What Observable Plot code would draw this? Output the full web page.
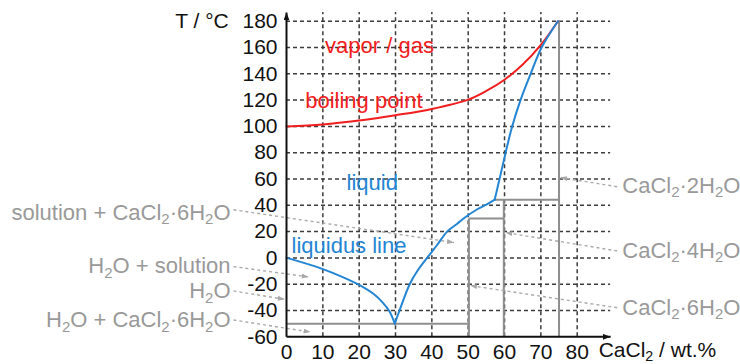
<!DOCTYPE html>
<html>
<head>
<meta charset="utf-8">
<script src="https://cdn.jsdelivr.net/npm/d3@7"></script>
<script src="https://cdn.jsdelivr.net/npm/@observablehq/plot@0.6"></script>
<style>
  html, body { margin: 0; padding: 0; background: #ffffff; }
  #chart svg { display: block; }
</style>
</head>
<body>
<div id="chart"></div>
<script>
// ---- tick values ----
const xTicks = [0, 10, 20, 30, 40, 50, 60, 70, 80];
const yTicks = [-60, -40, -20, 0, 20, 40, 60, 80, 100, 120, 140, 160, 180];
const gridXValues = [10, 20, 30, 40, 50, 60, 70, 80];
const gridYValues = [-40, -20, 0, 20, 40, 60, 80, 100, 120, 140, 160, 180];

// ---- boiling point curve (wt.% CaCl2, °C) ----
const boilX = [0, 10, 20, 30, 40, 50, 55, 60, 65, 70, 74.7];
const boilT = [100, 101.5, 104.5, 108.5, 113.3, 120.4, 127, 135.5, 147, 162, 180];

// ---- liquidus line, three branches ----
const iceX = [0, 5, 10, 15, 20, 24, 26.5, 28.4, 29.8];
const iceT = [0, -4, -8.5, -14, -20.5, -27.5, -34, -41, -50];
const hexX = [29.8, 31.1, 33.9, 36, 38.7, 41.5, 44.2, 47, 49, 52.5, 55, 57.3];
const hexT = [-50, -40, -20, -10, 0, 10, 20, 26, 30.5, 37, 40.5, 44.3];
const dihX = [57.3, 58.8, 60.3, 62.1, 64.4, 67.2, 70.2, 74.7];
const dihT = [44.3, 62, 80, 100, 120, 140, 160, 180];

// ---- phase boundary lines (gray): x1, T1, x2, T2 ----
const phaseX1 = [0, 50.2, 50.2, 59.8, 57.3, 75];
const phaseT1 = [-50, -60, 30, -60, 44.3, -60];
const phaseX2 = [50.2, 50.2, 59.8, 59.8, 75, 75];
const phaseT2 = [-50, 30, 30, 44.3, 44.3, 180];

// ---- region labels ----
const regionText = ["vapor / gas", "boiling point", "liquid", "liquidus line"];
const regionX = [25.6, 21.3, 23.6, 17.2];
const regionT = [161.5, 119.6, 57, 9];
const regionKind = ["red", "red", "blue", "blue"];

// ---- left annotations ----
const leftText = ["solution + CaCl₂·6H₂O", "H₂O + solution", "H₂O", "H₂O + CaCl₂·6H₂O"];
const leftT = [34.3, -6.3, -25.4, -47.5];
const leftStartT = [36.6, -6.6, -25.1, -47.2];
const leftTipX = [46.1, 6.1, -0.5, 6.6];
const leftTipT = [11.7, -14.5, -31.5, -56.4];

// ---- right annotations ----
const rightText = ["CaCl₂·2H₂O", "CaCl₂·4H₂O", "CaCl₂·6H₂O"];
const rightT = [54.9, 5.3, -37.9];
const rightStartT = [54.1, 5.3, -37.9];
const rightTipX = [75.3, 60.2, 50.5];
const rightTipT = [61.2, 19.3, -21];

// ---- axis extents (data units) ----
const axisXEnd = 89.2;
const axisYEnd = 186.7;
const xMin = 0, xMax = 80, yMin = -60, yMax = 180;
const leftLabelX = -15.4, leftLinkX = -14.6;
const rightLabelX = 92.4, rightLinkX = 91;

// ---- build tables ----
const boil = boilX.map((x, i) => ({x, T: boilT[i]}));
const liquidus = [
  ...iceX.map((x, i) => ({x, T: iceT[i], seg: "ice"})),
  ...hexX.map((x, i) => ({x, T: hexT[i], seg: "hex"})),
  ...dihX.map((x, i) => ({x, T: dihT[i], seg: "dih"}))
];
const phase = phaseX1.map((x1, i) => ({x1, T1: phaseT1[i], x2: phaseX2[i], T2: phaseT2[i]}));
const regions = regionText.map((text, i) => ({text, x: regionX[i], T: regionT[i], kind: regionKind[i]}));
const leftAnn = leftText.map((text, i) => ({text, T: leftT[i], sT: leftStartT[i], tx: leftTipX[i], tT: leftTipT[i]}));
const rightAnn = rightText.map((text, i) => ({text, T: rightT[i], sT: rightStartT[i], tx: rightTipX[i], tT: rightTipT[i]}));
const axes = [
  {x1: xMin, T1: yMin, x2: axisXEnd, T2: yMin},
  {x1: xMin, T1: yMin, x2: xMin, T2: axisYEnd}
];

const RED = "#f21d1d";
const BLUE = "#2385d3";
const GRAY_TEXT = "#999999";
const GRAY_LINE = "#8e8e8e";
const GRAY_DASH = "#a9a9a9";
const GRID = "#3c3c3c";
const FONT = "'Liberation Sans', Arial, Helvetica, sans-serif";

// custom filled arrowhead marker
function makeHead(len, wid) {
  return function (color) {
    const ns = "http://www.w3.org/2000/svg";
    const m = document.createElementNS(ns, "marker");
    m.setAttribute("viewBox", `${-len} ${-wid / 2} ${len} ${wid}`);
    m.setAttribute("refX", 0);
    m.setAttribute("refY", 0);
    m.setAttribute("markerWidth", len);
    m.setAttribute("markerHeight", wid);
    m.setAttribute("markerUnits", "userSpaceOnUse");
    m.setAttribute("orient", "auto");
    const p = document.createElementNS(ns, "path");
    p.setAttribute("d", `M${-len},${-wid / 2}L0,0L${-len},${wid / 2}Z`);
    p.setAttribute("fill", color);
    p.setAttribute("stroke", "none");
    m.appendChild(p);
    return m;
  };
}
let annHead = makeHead(7, 5);
let axisHead = makeHead(8, 6);
try { Plot.link([], {x1: 0, y1: 0, x2: 1, y2: 1, markerEnd: annHead}); }
catch (e) { annHead = "arrow"; axisHead = "arrow"; }

const chart = Plot.plot({
  width: 740,
  height: 364,
  marginLeft: 286,
  marginRight: 163.3,
  marginTop: 20.7,
  marginBottom: 27.7,
  style: {fontFamily: FONT, fontSize: "21px", background: "#ffffff", color: "#111111", overflow: "visible"},
  x: {domain: [xMin, xMax], ticks: xTicks, tickSize: 0, tickPadding: 7, tickFormat: d => String(d), label: null},
  y: {domain: [yMin, yMax], ticks: yTicks, tickSize: 0, tickPadding: 9, tickFormat: d => String(d), label: null},
  marks: [
    // dashed grid
    Plot.ruleY(gridYValues, {y: d => d, x1: xMin, x2: axisXEnd, stroke: GRID, strokeWidth: 1.5, strokeDasharray: "4,3"}),
    Plot.ruleX(gridXValues, {x: d => d, y1: yMin, y2: axisYEnd, stroke: GRID, strokeWidth: 1.5, strokeDasharray: "4,3"}),
    // phase boundaries
    Plot.link(phase, {x1: "x1", y1: "T1", x2: "x2", y2: "T2", stroke: GRAY_LINE, strokeWidth: 2}),
    // annotation leaders
    Plot.link(leftAnn, {x1: leftLinkX, y1: "sT", x2: "tx", y2: "tT", stroke: GRAY_DASH, strokeWidth: 1.4, strokeDasharray: "3,3", markerEnd: annHead}),
    Plot.link(rightAnn, {x1: rightLinkX, y1: "sT", x2: "tx", y2: "tT", stroke: GRAY_DASH, strokeWidth: 1.4, strokeDasharray: "3,3", markerEnd: annHead}),
    // curves
    Plot.line(boil, {x: "x", y: "T", stroke: RED, strokeWidth: 2, curve: "catmull-rom"}),
    Plot.line(liquidus, {x: "x", y: "T", z: "seg", stroke: BLUE, strokeWidth: 2, curve: "catmull-rom"}),
    // axes lines with arrows
    Plot.link(axes, {x1: "x1", y1: "T1", x2: "x2", y2: "T2", stroke: "#111111", strokeWidth: 2, markerEnd: axisHead}),
    // region labels
    Plot.text(regions, {x: "x", y: "T", text: "text", fill: d => d.kind === "red" ? RED : BLUE, fontSize: 22, textAnchor: "middle"}),
    // annotation labels
    Plot.text(leftAnn, {x: leftLabelX, y: "T", text: "text", fill: GRAY_TEXT, fontSize: 22, textAnchor: "end"}),
    Plot.text(rightAnn, {x: rightLabelX, y: "T", text: "text", fill: GRAY_TEXT, fontSize: 22, textAnchor: "start"}),
    // axis titles
    Plot.text(["T / °C"], {x: -15.9, y: 180.3, text: d => d, fill: "#111111", fontSize: 21, textAnchor: "end"}),
    Plot.text(["CaCl₂ / wt.%"], {x: 85.9, y: -70.2, text: d => d, fill: "#111111", fontSize: 21, textAnchor: "start"})
  ]
});

document.getElementById("chart").appendChild(chart);

// render "₂" as a real lowered, smaller subscript
chart.querySelectorAll("text").forEach(t => {
  const s = t.textContent;
  if (!s.includes("₂") || t.children.length) return;
  const fs = parseFloat(getComputedStyle(t).fontSize) || 21;
  const shift = 0.2 * fs;
  const ns = "http://www.w3.org/2000/svg";
  const parts = s.split("₂");
  t.textContent = "";
  parts.forEach((p, i) => {
    if (i > 0) {
      const sub = document.createElementNS(ns, "tspan");
      sub.setAttribute("font-size", (0.68 * fs).toFixed(2));
      sub.setAttribute("dy", shift.toFixed(2));
      sub.textContent = "2";
      t.appendChild(sub);
    }
    if (p.length) {
      const tp = document.createElementNS(ns, "tspan");
      if (i > 0) tp.setAttribute("dy", (-shift).toFixed(2));
      tp.textContent = p;
      t.appendChild(tp);
    }
  });
});
</script>
</body>
</html>
